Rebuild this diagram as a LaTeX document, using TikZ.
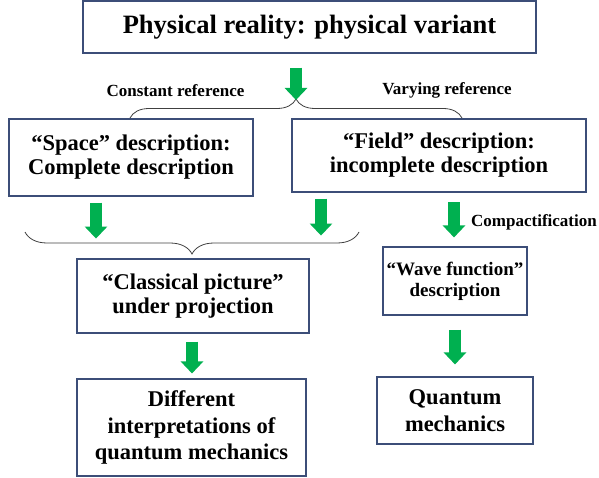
\documentclass[tikz,border=0pt]{standalone}
\usepackage{fontspec}
\setmainfont{Liberation Serif}
\usetikzlibrary{calc,arrows.meta,decorations.pathreplacing}
\definecolor{boxedge}{HTML}{3C4E78}
\definecolor{flowgreen}{HTML}{00B050}
\definecolor{bracegray}{HTML}{404040}

\begin{document}
\begin{tikzpicture}[x=1pt,y=-1pt,
  box/.style={draw=boxedge,line width=1.1pt,align=center,inner sep=0pt,
    font=\bfseries\fontsize{22.5}{24}\selectfont},
  lbl/.style={inner sep=0pt,font=\bfseries\fontsize{17}{20}\selectfont},
  flow/.style={draw=flowgreen,line width=12pt,-{Triangle[length=12pt,width=22pt]}},
  curly/.style={draw=bracegray,line width=0.8pt,decorate,decoration={brace,amplitude=#1}}]
  \useasboundingbox (0,0) rectangle (599,478);
  % boxes
  \node[box,minimum width=453pt,minimum height=52pt,font=\bfseries\fontsize{26.5}{30}\selectfont]
    (reality) at (309.5,27) {Physical reality: physical variant};
  \node[box,minimum width=244pt,minimum height=77pt] (space) at (131,157.5)
    {“Space” description:\\Complete description};
  \node[box,minimum width=294pt,minimum height=73pt] (field) at (439,155.5)
    {“Field” description:\\incomplete description};
  \node[box,minimum width=232pt,minimum height=74pt] (classical) at (193,296)
    {“Classical picture”\\under projection};
  \node[box,minimum width=144pt,minimum height=68pt,font=\bfseries\fontsize{19}{21}\selectfont]
    (wave) at (455,281) {“Wave function”\\description};
  \node[box,minimum width=229pt,minimum height=97pt,font=\bfseries\fontsize{22.5}{26.5}\selectfont]
    (interp) at (191.5,427.5) {Different\\interpretations of\\quantum mechanics};
  \node[box,minimum width=156pt,minimum height=67pt,font=\bfseries\fontsize{22.5}{26.5}\selectfont]
    (quantum) at (455,410.5) {Quantum\\mechanics};
  % labels
  \node[lbl,anchor=base] (constlbl) at (175.5,97) {Constant reference};
  \node[lbl,anchor=base] (varylbl) at (447,95) {Varying reference};
  \node[lbl,anchor=base west] (compactlbl) at (471,227) {Compactification};
  % braces
  \coordinate (upL) at (130,118);
  \coordinate (upR) at (462,118);
  \coordinate (loL) at (25,232);
  \coordinate (loR) at (359,232);
  \draw[curly=19pt] (upL) -- (upR);
  \draw[curly=22pt] (loR) -- (loL);
  % arrows
  \draw[flow] ($(reality.south)+(-13.5,14)$) -- ($(upL)!0.5!(upR)+(0,-18)$);
  \draw[flow] ($(space.south)+(-35,6)$) -- ($(space.south)+(-35,42)$);
  \draw[flow] ($(field.south)+(-118,6)$) -- ($(field.south)+(-118,43)$);
  \draw[flow] ($(wave.north)+(-1,-44)$) -- ($(wave.north)+(-1,-9)$);
  \draw[flow] ($(classical.south)+(-1,8)$) -- ($(classical.south |- interp.north)+(-1,-5)$);
  \draw[flow] ($(wave.south)+(0,14)$) -- ($(wave.south |- quantum.north)+(0,-12)$);
\end{tikzpicture}
\end{document}
